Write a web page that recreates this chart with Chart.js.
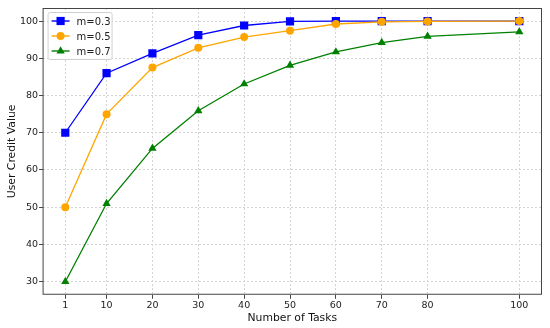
<!DOCTYPE html>
<html>
<head>
<meta charset="utf-8">
<script src="https://cdn.jsdelivr.net/npm/chart.js@4"></script>
<style>
  html, body { margin: 0; padding: 0; background: #fff; }
  #wrap { width: 550px; height: 328px; }
</style>
</head>
<body>
<div id="wrap"><canvas id="chart" width="550" height="328"></canvas></div>
<script>
const tasks = [1, 10, 20, 30, 40, 50, 60, 70, 80, 100];
const xTicks = [1, 10, 20, 30, 40, 50, 60, 70, 80, 100];
const yTicks = [30, 40, 50, 60, 70, 80, 90, 100];
const m03 = [70, 86, 91.3, 96.2, 98.8, 99.9, 100, 100, 100, 100];
const m05 = [50, 75, 87.5, 92.8, 95.7, 97.4, 99.2, 99.8, 99.9, 100];
const m07 = [30, 51, 65.8, 75.9, 83.1, 88.1, 91.7, 94.2, 95.9, 97.1];

const seriesInfo = [
  { label: "m=0.3", values: m03, color: "#0000ff", shape: "rect", radius: 5.8 },
  { label: "m=0.5", values: m05, color: "#ffa500", shape: "circle", radius: 4 },
  { label: "m=0.7", values: m07, color: "#008000", shape: "triangle", radius: 4.8 }
];

const font = "DejaVu Sans";

// frame around the plot area plus legend inside it
const framePlugin = {
  id: "frame",
  afterDraw(chart) {
    const { ctx, chartArea: a } = chart;
    ctx.save();
    ctx.strokeStyle = "#444";
    ctx.lineWidth = 1;
    ctx.strokeRect(a.left + 0.5, a.top + 0.5, a.right - a.left - 1, a.bottom - a.top - 1);

    // legend box
    const bx = a.left + 5, by = a.top + 4, bw = 64, bh = 47;
    ctx.fillStyle = "rgba(255,255,255,0.85)";
    ctx.strokeStyle = "#d0d0d0";
    ctx.beginPath();
    ctx.roundRect(bx + 0.5, by + 0.5, bw, bh, 2);
    ctx.fill();
    ctx.stroke();
    ctx.font = "10px '" + font + "'";
    ctx.textBaseline = "middle";
    seriesInfo.forEach((s, i) => {
      const y = by + 9 + i * 15;
      ctx.strokeStyle = s.color;
      ctx.lineWidth = 1.4;
      ctx.beginPath();
      ctx.moveTo(bx + 4, y);
      ctx.lineTo(bx + 22, y);
      ctx.stroke();
      ctx.fillStyle = s.color;
      Chart.helpers.drawPoint(ctx, { pointStyle: s.shape, radius: s.radius, borderWidth: 0, rotation: 0 }, bx + 13, y);
      ctx.fillStyle = "#222";
      ctx.fillText(s.label, bx + 29, y + 1);
    });
    ctx.restore();
  }
};

const datasets = seriesInfo.map((s, i) => ({
  label: s.label,
  data: tasks.map((t, j) => ({ x: t, y: s.values[j] })),
  borderColor: s.color,
  backgroundColor: s.color,
  borderWidth: 1.3,
  pointStyle: s.shape,
  pointRadius: s.radius,
  pointBorderWidth: 0,
  pointHoverRadius: s.radius,
  showLine: true,
  order: 3 - i
}));

new Chart(document.getElementById("chart"), {
  type: "scatter",
  data: { datasets },
  plugins: [framePlugin],
  options: {
    responsive: false,
    animation: false,
    layout: { padding: { left: 6, right: 8, top: 8, bottom: 4 } },
    plugins: { legend: { display: false }, tooltip: { enabled: false } },
    scales: {
      x: {
        type: "linear",
        min: -3.95,
        max: 104.95,
        afterBuildTicks(scale) { scale.ticks = xTicks.map(v => ({ value: v })); },
        ticks: { color: "#222", font: { family: font, size: 9.5, lineHeight: 1.1 }, padding: 2, autoSkip: false, maxRotation: 0 },
        grid: { color: "#d4d4d4", tickColor: "#444", tickLength: 4, drawTicks: true },
        border: { display: false, dash: [2, 2] },
        title: { display: true, text: "Number of Tasks", color: "#111", font: { family: font, size: 10.8, lineHeight: 1 }, padding: { top: 0, bottom: 0 } }
      },
      y: {
        min: 26.5,
        max: 103.5,
        afterBuildTicks(scale) { scale.ticks = yTicks.map(v => ({ value: v })); },
        ticks: { color: "#222", font: { family: font, size: 9.5 }, padding: 1 },
        grid: { color: "#d4d4d4", tickColor: "#444", tickLength: 3.5, drawTicks: true },
        border: { display: false, dash: [2, 2] },
        title: { display: true, text: "User Credit Value", color: "#111", font: { family: font, size: 10.8 }, padding: { top: 0, bottom: 0 } }
      }
    }
  }
});
</script>
</body>
</html>
